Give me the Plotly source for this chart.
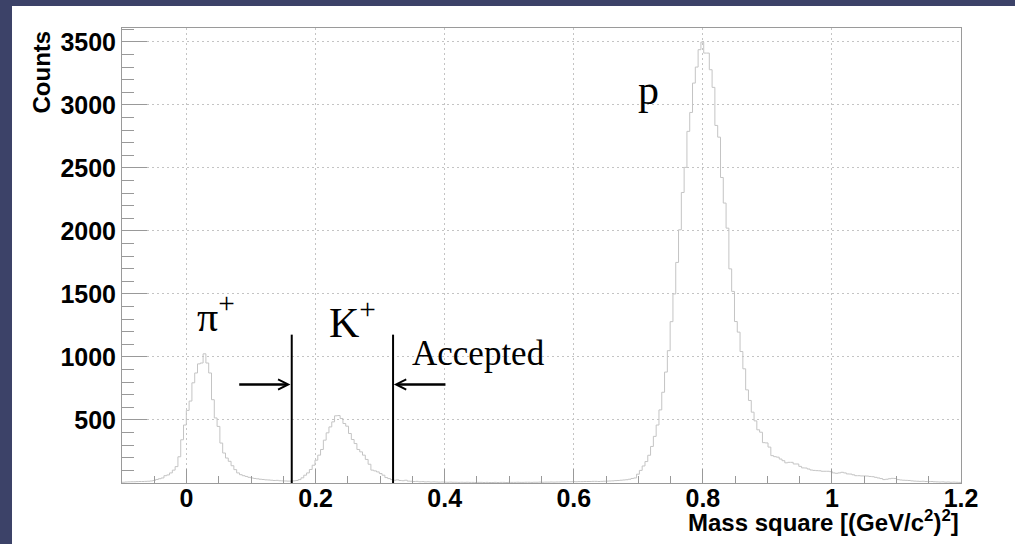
import plotly.graph_objects as go

# Histogram: 300 bins from -0.1 to 1.2
x_min = -0.1
x_max = 1.2
n_bins = 300
counts = [
    6, 8, 9, 10, 10, 11, 12, 12, 13, 14,
    16, 20, 28, 34, 40, 58, 64, 80, 102, 130,
    208, 343, 460, 576, 650, 795, 873, 945, 952, 1025,
    952, 873, 661, 516, 449, 317, 238, 198, 172, 137,
    106, 80, 66, 58, 52, 45, 40, 36, 33, 30,
    28, 25, 24, 22, 20, 21, 18, 17, 16, 15,
    15, 17, 20, 27, 41, 62, 80, 107, 141, 181,
    221, 266, 340, 398, 445, 485, 533, 535, 512, 472,
    451, 393, 345, 313, 266, 247, 221, 187, 149, 102,
    96, 88, 75, 62, 43, 35, 27, 22, 25, 20,
    18, 22, 15, 14, 12, 13, 10, 11, 9, 10,
    8, 9, 8, 7, 8, 7, 6, 7, 6, 6,
    5, 6, 5, 6, 5, 5, 4, 5, 5, 4,
    5, 4, 4, 5, 4, 5, 5, 4, 5, 5,
    5, 6, 5, 5, 6, 6, 5, 6, 6, 7,
    6, 7, 7, 8, 7, 8, 8, 9, 9, 10,
    10, 11, 10, 11, 11, 12, 12, 12, 13, 13,
    12, 13, 14, 15, 16, 17, 19, 20, 22, 24,
    26, 30, 36, 40, 70, 100, 135, 170, 220, 290,
    370, 460, 580, 720, 880, 1050, 1280, 1500, 1750, 2009,
    2305, 2504, 2790, 2940, 3173, 3300, 3438, 3498, 3411, 3411,
    3279, 3139, 2837, 2744, 2424, 2221, 2022, 1699, 1520, 1281,
    1197, 1043, 906, 739, 655, 562, 493, 422, 403, 320,
    318, 285, 217, 209, 205, 190, 177, 160, 164, 164,
    151, 151, 132, 120, 119, 111, 103, 100, 98, 97,
    93, 93, 93, 90, 80, 77, 80, 85, 80, 72,
    71, 65, 58, 58, 56, 56, 55, 52, 50, 45,
    40, 35, 27, 30, 34, 37, 36, 27, 24, 22,
    21, 20, 17, 15, 14, 13, 14, 12, 11, 12,
    10, 9, 8, 9, 7, 8, 6, 7, 6, 5,
]

x_tick_vals = [0, 0.2, 0.4, 0.6, 0.8, 1.0, 1.2]
x_tick_text = ["0", "0.2", "0.4", "0.6", "0.8", "1", "1.2"]
y_tick_vals = [500, 1000, 1500, 2000, 2500, 3000, 3500]
y_tick_text = ["500", "1000", "1500", "2000", "2500", "3000", "3500"]

cut_low = 0.163
cut_high = 0.320
cut_top = 1177
arrow_y = 782
arrow_left = (0.0793, 0.161)    # tail, head
arrow_right = (0.4035, 0.3212)  # tail, head

labels = [
    dict(text="π<sup>+</sup>", x=0.013, y=1348, size=42),
    dict(text="K<sup>+</sup>", x=0.218, y=1295, size=42),
    dict(text="p", x=0.697, y=3120, size=42),
    dict(text="Accepted", x=0.346, y=1030, size=35),
]

bw = (x_max - x_min) / n_bins
edges = [x_min + k * bw for k in range(n_bins + 1)]
ys = counts + [counts[-1]]

BG = "#3c4268"
TICK_FONT = dict(family="Liberation Sans, Arial, sans-serif", size=25, color="black", weight="bold")
TITLE_FONT = dict(family="Liberation Sans, Arial, sans-serif", size=24, color="black", weight="bold")

fig = go.Figure()
fig.add_trace(go.Scatter(
    x=edges, y=ys, mode="lines",
    line=dict(color="#c4c4c4", width=1, shape="hv"),
    hoverinfo="skip", showlegend=False,
))

shapes = [
    dict(type="rect", xref="paper", yref="paper", x0=-0.1311, x1=1.1, y0=-0.2, y1=1.0484,
         fillcolor="white", line=dict(width=0), layer="below"),
    dict(type="line", xref="x", yref="y", x0=cut_low, x1=cut_low, y0=0, y1=cut_top,
         line=dict(color="black", width=2)),
    dict(type="line", xref="x", yref="y", x0=cut_high, x1=cut_high, y0=0, y1=cut_top,
         line=dict(color="black", width=2)),
]

annotations = []
for tail, head in (arrow_left, arrow_right):
    annotations.append(dict(
        x=head, y=arrow_y, ax=tail, ay=arrow_y, xref="x", yref="y", axref="x", ayref="y",
        text="", showarrow=True, arrowhead=5, arrowsize=0.8, arrowwidth=2.5,
        arrowcolor="black", standoff=0, startstandoff=0,
    ))
for lb in labels:
    annotations.append(dict(
        x=lb["x"], y=lb["y"], xref="x", yref="y", text=lb["text"], showarrow=False,
        xanchor="left", yanchor="middle",
        font=dict(family="Liberation Serif, Times New Roman, serif", size=lb["size"], color="black"),
    ))
annotations.append(dict(
    x=-0.0954, y=1.0, xref="paper", yref="paper", text="Counts", textangle=-90,
    showarrow=False, xanchor="center", yanchor="top", font=TITLE_FONT,
))
annotations.append(dict(
    x=1.0, y=-0.084, xref="paper", yref="paper", text="Mass square [(GeV/c<sup>2</sup>)<sup>2</sup>]",
    showarrow=False, xanchor="right", yanchor="middle", font=TITLE_FONT,
))

fig.update_layout(
    width=1015, height=544,
    margin=dict(l=122, r=54, t=28, b=61),
    paper_bgcolor=BG, plot_bgcolor="white",
    shapes=shapes, annotations=annotations,
    xaxis=dict(
        range=[x_min, x_max], tickmode="array", tickvals=x_tick_vals, ticktext=x_tick_text,
        ticks="inside", ticklen=14, tickcolor="#999999", tickwidth=1,
        showgrid=True, gridcolor="#c4c4c4", griddash="2px,3px", gridwidth=1,
        showline=True, linecolor="#9a9a9a", linewidth=1, mirror=True,
        zeroline=False, tickfont=TICK_FONT, ticklabelstandoff=-7,
        minor=dict(dtick=0.05, tick0=-0.1, ticks="inside", ticklen=7, tickcolor="#999999", showgrid=False),
    ),
    yaxis=dict(
        range=[0, 3610], tickmode="array", tickvals=y_tick_vals, ticktext=y_tick_text,
        ticks="inside", ticklen=25, tickcolor="#999999", tickwidth=1,
        showgrid=True, gridcolor="#c4c4c4", griddash="2px,3px", gridwidth=1,
        showline=True, linecolor="#9a9a9a", linewidth=1, mirror=True,
        zeroline=False, tickfont=TICK_FONT,
        minor=dict(dtick=100, tick0=0, ticks="inside", ticklen=12, tickcolor="#999999", showgrid=False),
    ),
)

fig.write_html(
    "out.html",
    config={"displayModeBar": False},
    post_script="document.body.style.margin='0';document.body.style.overflow='hidden';",
)
